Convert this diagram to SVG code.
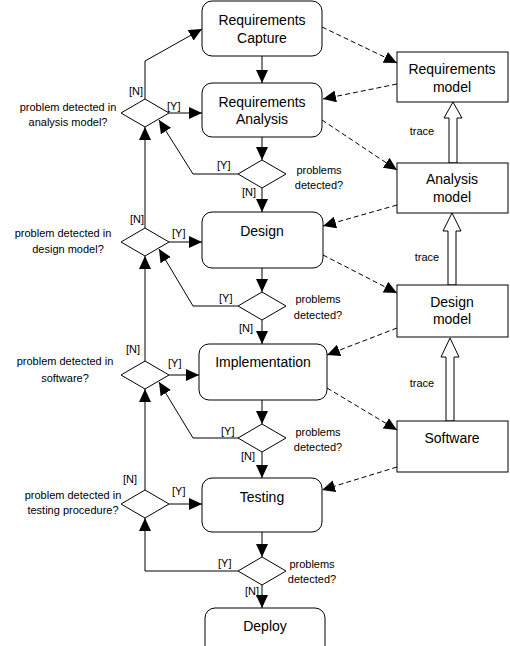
<svg xmlns="http://www.w3.org/2000/svg" width="510" height="646" viewBox="0 0 510 646">
<style>
  .box{fill:#fff;stroke:#000;stroke-width:1}
  .dia{fill:#fff;stroke:#000;stroke-width:1}
  .t{font-family:"Liberation Sans",Arial,sans-serif;font-size:14px;fill:#000;text-anchor:middle}
  .s{font-family:"Liberation Sans",Arial,sans-serif;font-size:11px;fill:#000;text-anchor:middle}
  .sl{font-family:"Liberation Sans",Arial,sans-serif;font-size:11px;fill:#000}
  .c{fill:none;stroke:#000;stroke-width:1;marker-end:url(#ah)}
  .d{fill:none;stroke:#000;stroke-width:1;stroke-dasharray:5,3;marker-end:url(#ah)}
  .h{fill:#fff;stroke:#000;stroke-width:1}
</style>
<defs>
  <marker id="ah" viewBox="0 0 13 12" refX="13" refY="6" markerWidth="13" markerHeight="12" markerUnits="userSpaceOnUse" orient="auto">
    <path d="M0,0 L13,6 L0,12 z" fill="#000"/>
  </marker>
</defs>
<rect width="510" height="646" fill="#fff"/>

<g id="connectors">
  <line class="c" x1="262" y1="56" x2="262" y2="83"/>
  <line class="c" x1="262" y1="137" x2="262" y2="160"/>
  <line class="c" x1="262" y1="188" x2="262" y2="212"/>
  <line class="c" x1="262" y1="268" x2="262" y2="292"/>
  <line class="c" x1="262" y1="320" x2="262" y2="344"/>
  <line class="c" x1="262" y1="400" x2="262" y2="424"/>
  <line class="c" x1="262" y1="452" x2="262" y2="478"/>
  <line class="c" x1="262" y1="532" x2="262" y2="557"/>
  <line class="c" x1="262" y1="585" x2="262" y2="608"/>
  <polyline class="c" points="238,174 193,174 159,120"/>
  <polyline class="c" points="238,306 193,306 159,249"/>
  <polyline class="c" points="238,438 193,438 159,382"/>
  <polyline class="c" points="238,571 145,571 145,518"/>
  <polyline class="c" points="145,99 145,61 202,29"/>
  <line class="c" x1="169" y1="113" x2="202" y2="113"/>
  <line class="c" x1="145" y1="228" x2="145" y2="127"/>
  <line class="c" x1="169" y1="242" x2="202" y2="242"/>
  <line class="c" x1="145" y1="361" x2="145" y2="256"/>
  <line class="c" x1="169" y1="375" x2="199" y2="375"/>
  <line class="c" x1="145" y1="490" x2="145" y2="389"/>
  <line class="c" x1="169" y1="504" x2="202" y2="504"/>
  <line class="d" x1="322" y1="27" x2="397" y2="63"/>
  <line class="d" x1="397" y1="84" x2="323" y2="99"/>
  <line class="d" x1="322" y1="120" x2="397" y2="170"/>
  <line class="d" x1="397" y1="205" x2="323" y2="226"/>
  <line class="d" x1="323" y1="255" x2="397" y2="293"/>
  <line class="d" x1="397" y1="328" x2="327" y2="355"/>
  <line class="d" x1="327" y1="388" x2="397" y2="430"/>
  <line class="d" x1="397" y1="467" x2="322" y2="490"/>
  <path class="h" d="M449,163 L449,118 L444,118 L453,102 L462,118 L457,118 L457,163 Z"/>
  <path class="h" d="M448,285 L448,231 L443,231 L452,213 L461,231 L456,231 L456,285 Z"/>
  <path class="h" d="M446,421 L446,357 L441,357 L450,338 L459,357 L454,357 L454,421 Z"/>
  <text class="sl" x="129" y="95">[N]</text>
  <text class="sl" x="167" y="110">[Y]</text>
  <text class="sl" x="217" y="169">[Y]</text>
  <text class="sl" x="242" y="196">[N]</text>
  <text class="sl" x="130" y="223">[N]</text>
  <text class="sl" x="172" y="237">[Y]</text>
  <text class="sl" x="219" y="302">[Y]</text>
  <text class="sl" x="239" y="332">[N]</text>
  <text class="sl" x="126" y="353">[N]</text>
  <text class="sl" x="168" y="367">[Y]</text>
  <text class="sl" x="221" y="435">[Y]</text>
  <text class="sl" x="241" y="460">[N]</text>
  <text class="sl" x="123" y="483">[N]</text>
  <text class="sl" x="172" y="495">[Y]</text>
  <text class="sl" x="218" y="567">[Y]</text>
  <text class="sl" x="245" y="595">[N]</text>
  <text class="s" x="422" y="135">trace</text>
  <text class="s" x="427" y="261">trace</text>
  <text class="s" x="422" y="387">trace</text>
</g>

<g id="req-capture">
  <rect class="box" x="202" y="1" width="120" height="55" rx="10"/>
  <text class="t" x="262" y="25">Requirements</text>
  <text class="t" x="262" y="43">Capture</text>
</g>
<g id="req-analysis">
  <rect class="box" x="202" y="83" width="120" height="54" rx="10"/>
  <text class="t" x="262" y="107">Requirements</text>
  <text class="t" x="262" y="124">Analysis</text>
</g>
<g id="design">
  <rect class="box" x="202" y="212" width="121" height="56" rx="10"/>
  <text class="t" x="262" y="236">Design</text>
</g>
<g id="implementation">
  <rect class="box" x="199" y="344" width="128" height="56" rx="10"/>
  <text class="t" x="263" y="367">Implementation</text>
</g>
<g id="testing">
  <rect class="box" x="202" y="478" width="120" height="54" rx="10"/>
  <text class="t" x="262" y="502">Testing</text>
</g>
<g id="deploy">
  <rect class="box" x="205" y="608" width="120" height="50" rx="10"/>
  <text class="t" x="265" y="631">Deploy</text>
</g>

<g id="d1">
  <polygon class="dia" points="262,160 286,174 262,188 238,174"/>
  <text class="s" x="319" y="174">problems</text>
  <text class="s" x="319" y="189">detected?</text>
</g>
<g id="d2">
  <polygon class="dia" points="262,292 286,306 262,320 238,306"/>
  <text class="s" x="318" y="303">problems</text>
  <text class="s" x="318" y="319">detected?</text>
</g>
<g id="d3">
  <polygon class="dia" points="262,424 286,438 262,452 238,438"/>
  <text class="s" x="318" y="436">problems</text>
  <text class="s" x="318" y="451">detected?</text>
</g>
<g id="d4">
  <polygon class="dia" points="262,557 286,571 262,585 238,571"/>
  <text class="s" x="312" y="568">problems</text>
  <text class="s" x="312" y="583">detected?</text>
</g>

<g id="dl1">
  <polygon class="dia" points="145,99 169,113 145,127 121,113"/>
  <text class="s" x="68" y="111">problem detected in</text>
  <text class="s" x="68" y="126">analysis model?</text>
</g>
<g id="dl2">
  <polygon class="dia" points="145,228 169,242 145,256 121,242"/>
  <text class="s" x="63" y="237">problem detected in</text>
  <text class="s" x="68" y="253">design model?</text>
</g>
<g id="dl3">
  <polygon class="dia" points="145,361 169,375 145,389 121,375"/>
  <text class="s" x="65" y="365">problem detected in</text>
  <text class="s" x="65" y="382">software?</text>
</g>
<g id="dl4">
  <polygon class="dia" points="145,490 169,504 145,518 121,504"/>
  <text class="s" x="73" y="499">problem detected in</text>
  <text class="s" x="73" y="514">testing procedure?</text>
</g>

<g id="req-model">
  <rect class="box" x="397" y="52" width="111" height="50"/>
  <text class="t" x="452" y="74">Requirements</text>
  <text class="t" x="452" y="92">model</text>
</g>
<g id="analysis-model">
  <rect class="box" x="397" y="163" width="111" height="50"/>
  <text class="t" x="452" y="184">Analysis</text>
  <text class="t" x="452" y="202">model</text>
</g>
<g id="design-model">
  <rect class="box" x="397" y="285" width="111" height="52"/>
  <text class="t" x="452" y="307">Design</text>
  <text class="t" x="452" y="324">model</text>
</g>
<g id="software">
  <rect class="box" x="397" y="421" width="111" height="51"/>
  <text class="t" x="452" y="443">Software</text>
</g>
</svg>
